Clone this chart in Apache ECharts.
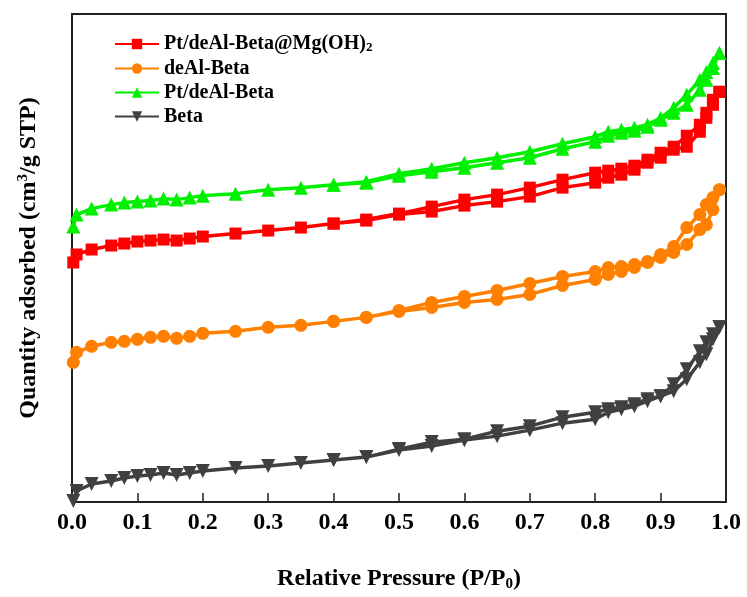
<!DOCTYPE html>
<html>
<head>
<meta charset="utf-8">
<script src="https://cdn.jsdelivr.net/npm/echarts@6/dist/echarts.min.js"></script>
<style>
  html, body { margin: 0; padding: 0; background: #fff; }
  #chart { width: 747px; height: 597px; }
</style>
</head>
<body>
<div id="chart"></div>
<script>
// relative pressure points, adsorption then desorption branch
const pAds = [0.002, 0.007, 0.03, 0.06, 0.08, 0.1, 0.12, 0.14, 0.16, 0.18, 0.2, 0.25, 0.3, 0.35, 0.4, 0.45, 0.5, 0.55, 0.6, 0.65, 0.7, 0.75, 0.8, 0.82, 0.84, 0.86, 0.88, 0.9, 0.92, 0.94, 0.96, 0.97, 0.98, 0.99];
const pDes = [0.99, 0.98, 0.97, 0.96, 0.94, 0.92, 0.9, 0.88, 0.86, 0.84, 0.82, 0.8, 0.75, 0.7, 0.65, 0.6, 0.55, 0.5, 0.45, 0.4];

// quantity adsorbed (arbitrary offset units, no y labels in the figure)
const mgAds = [240, 248, 253, 257, 259, 261, 262, 263, 262, 264, 266, 269, 272, 275, 279, 282, 288, 291, 297, 301, 306, 315, 320, 325, 328, 333, 340, 345, 353, 356, 371, 385, 398, 411];
const mgDes = [411, 403, 390, 378, 367, 356, 350, 343, 337, 334, 332, 330, 323, 315, 308, 303, 296, 289, 283, 279];
const deAlAds = [140, 150, 156, 160, 161, 163, 165, 166, 164, 166, 169, 171, 175, 177, 181, 185, 191, 195, 200, 203, 208, 217, 223, 228, 231, 235, 240, 245, 250, 258, 273, 278, 293, 313];
const deAlDes = [313, 305, 298, 288, 275, 256, 248, 241, 238, 236, 235, 231, 226, 219, 212, 206, 200, 192, 185, 181];
const ptAds = [276, 288, 294, 298, 300, 301, 302, 304, 303, 305, 307, 309, 313, 315, 318, 320, 327, 331, 335, 340, 345, 354, 361, 367, 370, 372, 376, 383, 390, 398, 413, 423, 435, 450];
const ptDes = [450, 440, 431, 423, 408, 395, 385, 378, 375, 373, 371, 366, 359, 351, 345, 340, 334, 329, 321, 318];
const betaAds = [1, 11, 18, 21, 24, 26, 27, 29, 27, 29, 31, 34, 36, 39, 42, 45, 52, 56, 62, 66, 72, 79, 83, 90, 93, 96, 101, 106, 111, 123, 140, 148, 163, 175];
const betaDes = [175, 168, 160, 151, 133, 118, 106, 103, 98, 95, 93, 90, 85, 76, 71, 63, 60, 53, 45, 42];

const xTicks = ["0.0", "0.1", "0.2", "0.3", "0.4", "0.5", "0.6", "0.7", "0.8", "0.9", "1.0"];

const names = ["Pt/deAl-Beta@Mg(OH)2", "deAl-Beta", "Pt/deAl-Beta", "Beta"];

function loop(ads, des) {
  const pts = pAds.map((p, i) => [p, ads[i]]);
  return pts.concat(pDes.map((p, i) => [p, des[i]]));
}

const font = "'Liberation Serif', 'Times New Roman', serif";

function curve(name, color, symbol, size, ads, des, rotate) {
  return {
    name: name,
    type: "line",
    data: loop(ads, des),
    symbol: symbol,
    symbolSize: size,
    symbolRotate: rotate || 0,
    lineStyle: { color: color, width: 3.5 },
    itemStyle: { color: color },
    animation: false
  };
}

const chart = echarts.init(document.getElementById("chart"));
chart.setOption({
  backgroundColor: "#fff",
  grid: { left: 72, right: 21, top: 14, bottom: 94 },
  legend: {
    data: names,
    orient: "vertical",
    left: 109,
    top: 29,
    itemWidth: 44,
    itemHeight: 13,
    itemGap: 4,
    textStyle: {
      fontFamily: font,
      fontWeight: "bold",
      fontSize: 20,
      color: "#000",
      rich: {
        n: { fontFamily: font, fontWeight: "bold", fontSize: 20, color: "#000" },
        s: { fontFamily: font, fontWeight: "bold", fontSize: 13, color: "#000", verticalAlign: "bottom", padding: [8, 0, 0, 0] }
      }
    },
    formatter: function (n) {
      if (n === names[0]) return "{n|Pt/deAl-Beta@Mg(OH)}{s|2}";
      return "{n|" + n + "}";
    }
  },
  xAxis: {
    type: "value",
    min: 0,
    max: 1,
    interval: 0.1,
    name: "{n|Relative Pressure (P/P}{s|0}{n|)}",
    nameLocation: "middle",
    nameGap: 63,
    nameTextStyle: {
      rich: {
        n: { fontFamily: font, fontWeight: "bold", fontSize: 24, color: "#000" },
        s: { fontFamily: font, fontWeight: "bold", fontSize: 15, color: "#000", verticalAlign: "bottom", padding: [12, 0, 0, 0] }
      }
    },
    axisLine: { show: true, lineStyle: { color: "#222", width: 2 } },
    axisTick: { show: true, inside: true, length: 9, lineStyle: { color: "#222", width: 1.5 } },
    axisLabel: {
      fontFamily: font,
      fontWeight: "bold",
      fontSize: 24,
      color: "#000",
      margin: 9,
      formatter: function (v) { return xTicks[Math.round(v * 10)]; }
    },
    splitLine: { show: false }
  },
  yAxis: {
    type: "value",
    min: 0,
    max: 489,
    name: "{n|Quantity adsorbed (cm}{p|3}{n|/g STP)}",
    nameLocation: "middle",
    nameGap: 31,
    nameRotate: 90,
    nameTextStyle: {
      rich: {
        n: { fontFamily: font, fontWeight: "bold", fontSize: 24, color: "#000" },
        p: { fontFamily: font, fontWeight: "bold", fontSize: 15, color: "#000", verticalAlign: "top", padding: [0, 0, 10, 0] }
      }
    },
    axisLine: { show: true, lineStyle: { color: "#222", width: 2 } },
    axisTick: { show: false },
    axisLabel: { show: false },
    splitLine: { show: false }
  },
  graphic: [],
  series: [
    curve(names[0], "#ff0000", "rect", 12, mgAds, mgDes),
    curve(names[1], "#ff8000", "circle", 13, deAlAds, deAlDes),
    curve(names[2], "#00f000", "triangle", 14, ptAds, ptDes),
    curve(names[3], "#404040", "triangle", 14, betaAds, betaDes, 180)
  ]
});

// box frame on top and right, like the original plot
const g = chart.getModel().getComponent("grid").coordinateSystem.getRect();
chart.setOption({
  graphic: [{
    type: "rect",
    shape: { x: g.x, y: g.y, width: g.width, height: g.height },
    style: { fill: "none", stroke: "#222", lineWidth: 2 },
    silent: true,
    z: 0
  }]
});
</script>
</body>
</html>
